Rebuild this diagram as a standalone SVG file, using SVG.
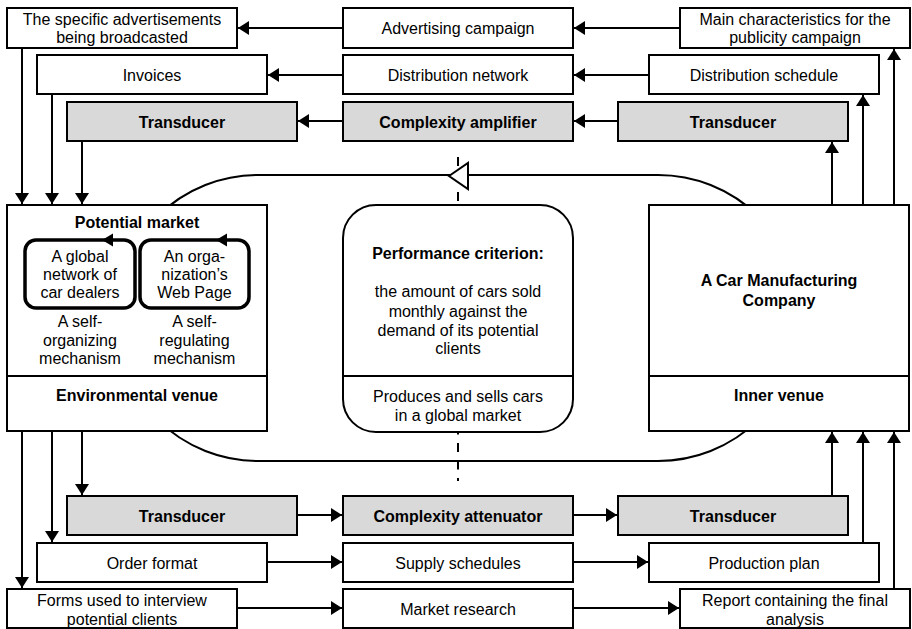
<svg xmlns="http://www.w3.org/2000/svg" width="912" height="629" viewBox="0 0 912 629">
  <style>
    text { font-family: "Liberation Sans", Arial, sans-serif; font-size: 16px; fill: #000; text-anchor: middle; }
    .b { font-weight: bold; }
    .box { fill: #fff; stroke: #000; stroke-width: 2; }
    .gray { fill: #d9d9d9; stroke: #000; stroke-width: 2; }
    .inner { fill: #fff; stroke: #000; stroke-width: 3.5; }
    .line { fill: none; stroke: #000; stroke-width: 2; }
    .arrow { fill: none; stroke: #000; stroke-width: 2; marker-end: url(#head); }
    .dash { fill: none; stroke: #000; stroke-width: 2; }
  </style>
  <defs>
    <marker id="head" markerUnits="userSpaceOnUse" markerWidth="12" markerHeight="14" refX="11" refY="7" orient="auto">
      <path d="M0,0 L11,7 L0,14 z" fill="#000"/>
    </marker>
  </defs>

  <rect width="912" height="629" fill="#fff"/>

  <!-- feedback loop behind the venues -->
  <g id="loop">
    <rect class="line" x="115" y="175" width="686" height="286" rx="143" ry="143"/>
    <path class="dash" d="M458 157 V202" stroke-dasharray="9 26"/>
    <path class="dash" d="M458 425.5 V481" stroke-dasharray="9 8.5"/>
    <polygon points="449,176 468,163 468,189" fill="#fff" stroke="#000" stroke-width="2"/>
  </g>

  <!-- connectors -->
  <g id="connectors">
    <!-- top rows, right to left -->
    <path class="arrow" d="M343 28 H238"/>
    <path class="arrow" d="M680 28 H574"/>
    <path class="arrow" d="M343 75 H268"/>
    <path class="arrow" d="M649 75 H574"/>
    <path class="arrow" d="M343 121 H298"/>
    <path class="arrow" d="M618 121 H574"/>
    <!-- into the potential market -->
    <path class="arrow" d="M22 48 V204"/>
    <path class="arrow" d="M52 94 V204"/>
    <path class="arrow" d="M82 141 V204"/>
    <!-- out of the environmental venue -->
    <path class="arrow" d="M22 431 V588"/>
    <path class="arrow" d="M52 431 V542"/>
    <path class="arrow" d="M82 431 V495"/>
    <!-- bottom rows, left to right -->
    <path class="arrow" d="M297 515 H342"/>
    <path class="arrow" d="M573 515 H617"/>
    <path class="arrow" d="M267 562 H342"/>
    <path class="arrow" d="M573 562 H648"/>
    <path class="arrow" d="M237 608 H342"/>
    <path class="arrow" d="M573 608 H679"/>
    <!-- out of the company -->
    <path class="arrow" d="M832 205 V142"/>
    <path class="arrow" d="M863 205 V95"/>
    <path class="arrow" d="M894 205 V49"/>
    <!-- into the inner venue -->
    <path class="arrow" d="M832 496 V432"/>
    <path class="arrow" d="M863 543 V432"/>
    <path class="arrow" d="M894 589 V432"/>
  </g>

  <!-- top rows -->
  <g id="ads-broadcasted">
    <rect class="box" x="7" y="8" width="230" height="40"/>
    <text x="122" y="25">The specific advertisements</text>
    <text x="122" y="43">being broadcasted</text>
  </g>
  <g id="advertising-campaign">
    <rect class="box" x="343" y="8" width="230" height="40"/>
    <text x="458" y="34">Advertising campaign</text>
  </g>
  <g id="main-characteristics">
    <rect class="box" x="680" y="8" width="230" height="40"/>
    <text x="795" y="25">Main characteristics for the</text>
    <text x="795" y="43">publicity campaign</text>
  </g>
  <g id="invoices">
    <rect class="box" x="37" y="55" width="230" height="39"/>
    <text x="152" y="81">Invoices</text>
  </g>
  <g id="distribution-network">
    <rect class="box" x="343" y="55" width="230" height="39"/>
    <text x="458" y="81">Distribution network</text>
  </g>
  <g id="distribution-schedule">
    <rect class="box" x="649" y="55" width="230" height="39"/>
    <text x="764" y="81">Distribution schedule</text>
  </g>
  <g id="transducer-top-left">
    <rect class="gray" x="67" y="102" width="230" height="39"/>
    <text class="b" x="182" y="128">Transducer</text>
  </g>
  <g id="complexity-amplifier">
    <rect class="gray" x="343" y="102" width="230" height="39"/>
    <text class="b" x="458" y="128">Complexity amplifier</text>
  </g>
  <g id="transducer-top-right">
    <rect class="gray" x="618" y="102" width="230" height="39"/>
    <text class="b" x="733" y="128">Transducer</text>
  </g>

  <!-- potential market / environmental venue -->
  <g id="potential-market">
    <rect class="box" x="7" y="205" width="260" height="226"/>
    <line class="line" x1="7" y1="376" x2="267" y2="376"/>
    <text class="b" x="137" y="228">Potential market</text>
    <text class="b" x="137" y="401">Environmental venue</text>
  </g>
  <g id="car-dealers">
    <rect class="inner" x="25" y="240" width="110" height="68" rx="11" ry="11"/>
    <polygon points="102,240 113,233.5 113,246.5" fill="#000"/>
    <text x="80" y="262">A global</text>
    <text x="80" y="280">network of</text>
    <text x="80" y="298">car dealers</text>
    <text x="80" y="327">A self-</text>
    <text x="80" y="346">organizing</text>
    <text x="80" y="364">mechanism</text>
  </g>
  <g id="web-page">
    <rect class="inner" x="140" y="240" width="109" height="68" rx="11" ry="11"/>
    <polygon points="216,240 227,233.5 227,246.5" fill="#000"/>
    <text x="194.5" y="262">An orga-</text>
    <text x="194.5" y="280">nization’s</text>
    <text x="194.5" y="298">Web Page</text>
    <text x="194.5" y="327">A self-</text>
    <text x="194.5" y="346">regulating</text>
    <text x="194.5" y="364">mechanism</text>
  </g>

  <!-- performance criterion -->
  <g id="performance-criterion">
    <rect class="box" x="343" y="205" width="230" height="227" rx="33" ry="33"/>
    <line class="line" x1="343" y1="376" x2="573" y2="376"/>
    <text class="b" x="458" y="259">Performance criterion:</text>
    <text x="458" y="297">the amount of cars sold</text>
    <text x="458" y="317">monthly against the</text>
    <text x="458" y="336">demand of its potential</text>
    <text x="458" y="354">clients</text>
    <text x="458" y="402">Produces and sells cars</text>
    <text x="458" y="421">in a global market</text>
  </g>

  <!-- company / inner venue -->
  <g id="car-company">
    <rect class="box" x="649" y="205" width="260" height="226"/>
    <line class="line" x1="649" y1="376" x2="909" y2="376"/>
    <text class="b" x="779" y="286">A Car Manufacturing</text>
    <text class="b" x="779" y="306">Company</text>
    <text class="b" x="779" y="401">Inner venue</text>
  </g>

  <!-- bottom rows -->
  <g id="transducer-bottom-left">
    <rect class="gray" x="67" y="496" width="230" height="39"/>
    <text class="b" x="182" y="522">Transducer</text>
  </g>
  <g id="complexity-attenuator">
    <rect class="gray" x="343" y="496" width="230" height="39"/>
    <text class="b" x="458" y="522">Complexity attenuator</text>
  </g>
  <g id="transducer-bottom-right">
    <rect class="gray" x="618" y="496" width="230" height="39"/>
    <text class="b" x="733" y="522">Transducer</text>
  </g>
  <g id="order-format">
    <rect class="box" x="37" y="543" width="230" height="39"/>
    <text x="152" y="569">Order format</text>
  </g>
  <g id="supply-schedules">
    <rect class="box" x="343" y="543" width="230" height="39"/>
    <text x="458" y="569">Supply schedules</text>
  </g>
  <g id="production-plan">
    <rect class="box" x="649" y="543" width="230" height="39"/>
    <text x="764" y="569">Production plan</text>
  </g>
  <g id="interview-forms">
    <rect class="box" x="7" y="589" width="230" height="39"/>
    <text x="122" y="606">Forms used to interview</text>
    <text x="122" y="625">potential clients</text>
  </g>
  <g id="market-research">
    <rect class="box" x="343" y="589" width="230" height="39"/>
    <text x="458" y="615">Market research</text>
  </g>
  <g id="final-report">
    <rect class="box" x="680" y="589" width="230" height="39"/>
    <text x="795" y="606">Report containing the final</text>
    <text x="795" y="625">analysis</text>
  </g>
</svg>
